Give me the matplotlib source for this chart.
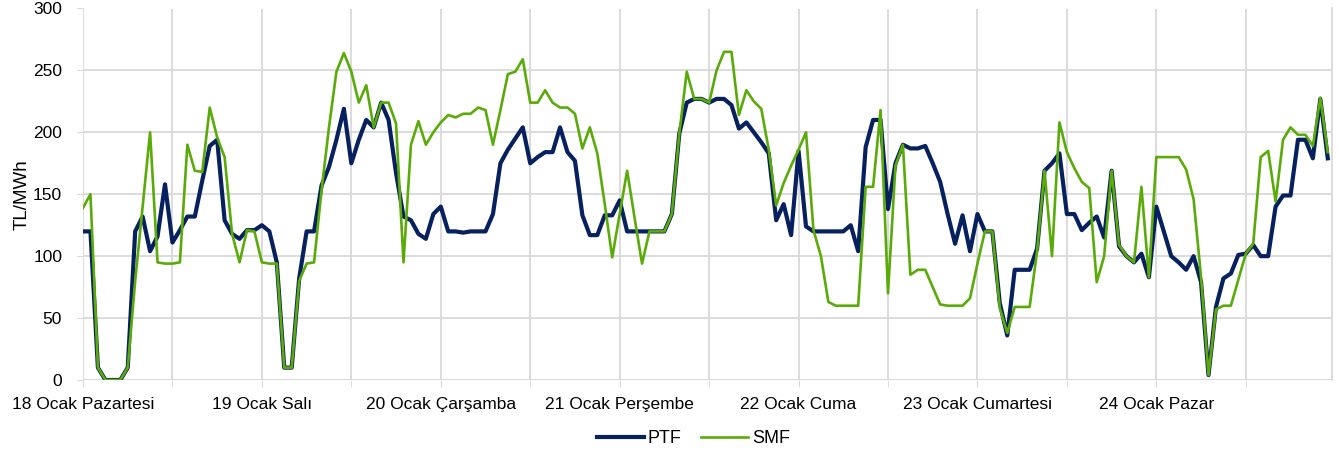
import numpy as np
import matplotlib
matplotlib.use("Agg")
import matplotlib.pyplot as plt

plt.rcParams['font.family'] = ['Liberation Sans', 'DejaVu Sans']

# hourly prices, 18-24 Ocak (168 hours)
ptf = [120, 120, 10, 0, 0, 0, 10, 120, 132, 104, 116, 158, 111, 121, 132, 132, 161, 189, 194, 129, 118, 114, 121, 121,
       125, 120, 95, 10, 10, 82, 120, 120, 157, 172, 194, 219, 175, 194, 210, 204, 224, 210, 167, 132, 129, 118, 114, 134,
       140, 120, 120, 119, 120, 120, 120, 134, 175, 186, 195, 204, 175, 180, 184, 184, 204, 184, 177, 133, 117, 117, 133, 133,
       145, 120, 120, 120, 120, 120, 120, 134, 199, 224, 227, 227, 224, 227, 227, 222, 203, 208, 200, 192, 183, 129, 142, 117,
       185, 124, 120, 120, 120, 120, 120, 125, 104, 188, 210, 210, 138, 175, 190, 187, 187, 189, 175, 160, 134, 110, 133, 104,
       134, 120, 120, 62, 36, 89, 89, 89, 106, 169, 175, 183, 134, 134, 121, 127, 132, 115, 169, 108, 100, 95, 102, 83,
       140, 120, 100, 95, 89, 100, 79, 4, 59, 82, 86, 101, 102, 109, 100, 100, 140, 149, 149, 194, 194, 179, 227, 179]
smf = [139, 150, 10, 0, 0, 0, 10, 80, 140, 200, 95, 94, 94, 95, 190, 169, 168, 220, 196, 180, 118, 95, 121, 120,
       95, 94, 94, 10, 10, 80, 94, 95, 153, 204, 249, 264, 249, 224, 238, 204, 224, 224, 207, 95, 190, 209, 190, 200,
       208, 214, 212, 215, 215, 220, 218, 190, 218, 247, 249, 259, 224, 224, 234, 224, 220, 220, 215, 187, 204, 183, 142, 99,
       134, 169, 131, 94, 120, 120, 120, 134, 199, 249, 227, 227, 224, 250, 265, 265, 214, 234, 225, 219, 186, 141, 159, 173,
       186, 200, 121, 100, 63, 60, 60, 60, 60, 156, 156, 218, 70, 173, 190, 85, 89, 89, 75, 61, 60, 60, 60, 66,
       94, 120, 120, 58, 38, 59, 59, 59, 104, 169, 100, 208, 184, 171, 160, 155, 79, 100, 169, 109, 100, 95, 156, 83,
       180, 180, 180, 180, 170, 146, 83, 4, 57, 60, 60, 81, 102, 110, 180, 185, 144, 194, 204, 198, 198, 189, 228, 184]
days = ['18 Ocak Pazartesi', '19 Ocak Salı', '20 Ocak Çarşamba', '21 Ocak Perşembe',
        '22 Ocak Cuma', '23 Ocak Cumartesi', '24 Ocak Pazar']

hours = np.arange(len(ptf))

fig = plt.figure(figsize=(13.39, 4.54), dpi=100)
ax = fig.add_axes([83 / 1339, 1 - 380 / 454, (1331.5 - 83) / 1339, (380 - 8.5) / 454])

ax.plot(hours, ptf, color='#07215e', lw=3.0, label='PTF', zorder=3)
ax.plot(hours, smf, color='#5aab0a', lw=1.9, label='SMF', zorder=4)

ax.set_xlim(0, 167.5)
ax.set_ylim(0, 300)
ax.set_yticks(range(0, 301, 50))
ax.set_xticks(np.arange(0, 168, 24))
ax.set_xticklabels(days)
ax.set_xticks(np.arange(12, 168, 24), minor=True)

grid_c = '#d9d9d9'
ax.grid(True, which='both', color=grid_c, lw=1.3)
ax.set_axisbelow(True)
for s in ['left', 'top', 'bottom']:
    ax.spines[s].set_visible(False)
ax.spines['right'].set_color(grid_c)
ax.spines['right'].set_linewidth(1.3)
ax.axhline(0, color=grid_c, lw=1.5, zorder=1)

ax.tick_params(axis='x', which='both', length=5, color=grid_c, labelsize=12.5, pad=7)
ax.tick_params(axis='y', length=4, color=grid_c, labelsize=12.5, pad=11)
ax.set_ylabel('TL/MWh', fontsize=13.5, labelpad=2)

fig.legend(loc='center', bbox_to_anchor=(0.518, 0.034), ncol=2, frameon=False,
           fontsize=13, handlelength=2.6, handletextpad=0.2, columnspacing=1.1)

fig.savefig('out.png', dpi=100)
